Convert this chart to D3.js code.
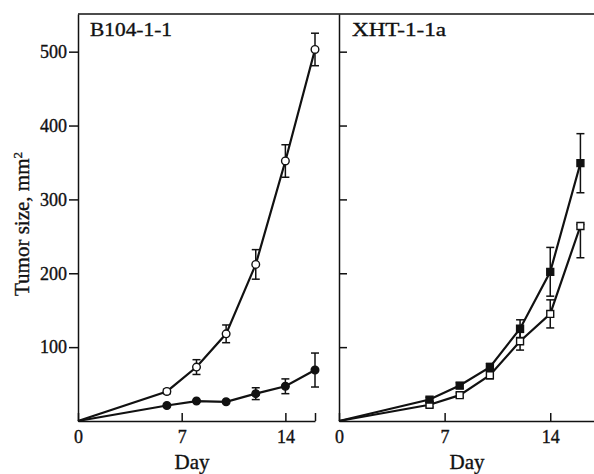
<!DOCTYPE html>
<html>
<head>
<meta charset="utf-8">
<script src="https://cdn.jsdelivr.net/npm/d3@7"></script>
<style>
  body { margin: 0; background: #fff; }
  svg text { font-family: "Liberation Serif", "DejaVu Serif", serif; fill: #111; stroke: #111; stroke-width: 0.35px; }
</style>
</head>
<body>
<div id="chart"></div>
<script>
// days measured
var days = [0, 6, 8, 10, 12, 14, 16];

// B104-1-1 panel
var b104Open = [0, 40, 73, 118, 212, 352, 503];
var b104OpenErr = [0, 3, 10, 12, 20, 22, 22];
var b104Filled = [0, 21, 27, 26, 37, 47, 69];
var b104FilledErr = [0, 2, 2, 2, 8, 10, 23];

// XHT-1-1a panel
var xhtFilled = [0, 29, 48, 73, 125, 202, 349];
var xhtFilledErr = [0, 3, 4, 5, 12, 33, 40];
var xhtOpen = [0, 22, 35, 62, 108, 145, 264];
var xhtOpenErrUp = [0, 3, 3, 5, 12, 19, 2];
var xhtOpenErrDown = [0, 3, 3, 5, 12, 19, 43];

var yTicks = [100, 200, 300, 400, 500];
var leftXTicks = [0, 7, 14, 16];
var rightXTicks = [0, 7, 14];

var width = 594, height = 474;
var plotTop = 14, plotBottom = 421;

var svg = d3.select("#chart")
            .append("svg")
            .attr("width", width)
            .attr("height", height);

var y = d3.scaleLinear().domain([0, 551]).range([plotBottom, plotTop]);
var xLeft = d3.scaleLinear().domain([0, 16]).range([78, 315]);
var xRight = d3.scaleLinear().domain([0, 16.9]).range([339, 594]);

// top frame line across both panels
svg.append("line")
   .attr("x1", xLeft(0)).attr("x2", width)
   .attr("y1", plotTop).attr("y2", plotTop)
   .attr("stroke", "#111").attr("stroke-width", 1.5);

function styleAxis(g) {
    g.selectAll("path, line").attr("stroke", "#111").attr("stroke-width", 1.5);
    g.selectAll("text").attr("font-size", 18).attr("font-family", "Liberation Serif").attr("fill", "#111");
}

// left y axis, ticks outward with labels
svg.append("g")
   .attr("transform", "translate(" + xLeft(0) + ",0)")
   .call(d3.axisLeft(y).tickValues(yTicks).tickSize(9).tickSizeOuter(0).tickPadding(2))
   .call(styleAxis);

// right y axis, ticks inward, no labels
svg.append("g")
   .attr("transform", "translate(" + xRight(0) + ",0)")
   .call(d3.axisRight(y).tickValues(yTicks).tickSize(8).tickSizeOuter(0).tickFormat(""))
   .call(styleAxis);

// x axes, ticks pointing up
svg.append("g")
   .attr("transform", "translate(0," + plotBottom + ")")
   .call(d3.axisBottom(xLeft).tickValues(leftXTicks).tickSize(-8).tickSizeOuter(0).tickPadding(9)
           .tickFormat(function(d) { return d === 16 ? "" : d; }))
   .call(styleAxis);

svg.append("g")
   .attr("transform", "translate(0," + plotBottom + ")")
   .call(d3.axisBottom(xRight).tickValues(rightXTicks).tickSize(-8).tickSizeOuter(0).tickPadding(9))
   .call(styleAxis);

// panel titles (scan is a bit wide, stretch glyphs)
svg.append("text").attr("x", 90).attr("y", 36).attr("font-size", 19)
   .attr("textLength", 82).attr("lengthAdjust", "spacingAndGlyphs").text("B104-1-1");
svg.append("text").attr("x", 352).attr("y", 36).attr("font-size", 19)
   .attr("textLength", 94).attr("lengthAdjust", "spacingAndGlyphs").text("XHT-1-1a");

// axis titles
svg.append("text").attr("x", 192).attr("y", 469)
   .attr("text-anchor", "middle").attr("font-size", 21).text("Day");
svg.append("text").attr("x", 467).attr("y", 469)
   .attr("text-anchor", "middle").attr("font-size", 21).text("Day");

var yLabel = svg.append("text")
   .attr("transform", "translate(29,224) rotate(-90)")
   .attr("text-anchor", "middle").attr("font-size", 21);
yLabel.append("tspan").text("Tumor size, mm");
yLabel.append("tspan").attr("dy", -7).attr("font-size", 13).text("2");

function drawSeries(x, values, errUp, errDown, shape, filled) {
    var pts = days.map(function(d, i) {
        return {day: d, v: values[i], up: errUp[i], down: errDown[i]};
    });
    var line = d3.line()
                 .x(function(d) { return x(d.day); })
                 .y(function(d) { return y(d.v); });
    svg.append("path")
       .datum(pts)
       .attr("d", line)
       .attr("fill", "none")
       .attr("stroke", "#111")
       .attr("stroke-width", 2.2);

    var eb = svg.append("g").selectAll("g")
                .data(pts.filter(function(d) { return d.up > 2 || d.down > 2; }))
                .enter().append("g")
                .attr("stroke", "#111").attr("stroke-width", 1.5);
    eb.append("line")
      .attr("x1", function(d) { return x(d.day); })
      .attr("x2", function(d) { return x(d.day); })
      .attr("y1", function(d) { return y(d.v + d.up); })
      .attr("y2", function(d) { return y(d.v - d.down); });
    eb.append("line")
      .attr("x1", function(d) { return x(d.day) - 4; })
      .attr("x2", function(d) { return x(d.day) + 4; })
      .attr("y1", function(d) { return y(d.v + d.up); })
      .attr("y2", function(d) { return y(d.v + d.up); });
    eb.append("line")
      .attr("x1", function(d) { return x(d.day) - 4; })
      .attr("x2", function(d) { return x(d.day) + 4; })
      .attr("y1", function(d) { return y(d.v - d.down); })
      .attr("y2", function(d) { return y(d.v - d.down); });

    var sym = d3.symbol().type(shape === "circle" ? d3.symbolCircle : d3.symbolSquare)
                .size(shape === "circle" ? 46 : 48);
    svg.append("g").selectAll("path")
       .data(pts.slice(1))
       .enter().append("path")
       .attr("d", sym)
       .attr("transform", function(d) { return "translate(" + x(d.day) + "," + y(d.v) + ")"; })
       .attr("fill", filled ? "#111" : "#fff")
       .attr("stroke", "#111")
       .attr("stroke-width", 1.4);
}

drawSeries(xLeft, b104Filled, b104FilledErr, b104FilledErr, "circle", true);
drawSeries(xLeft, b104Open, b104OpenErr, b104OpenErr, "circle", false);
drawSeries(xRight, xhtOpen, xhtOpenErrUp, xhtOpenErrDown, "square", false);
drawSeries(xRight, xhtFilled, xhtFilledErr, xhtFilledErr, "square", true);
</script>
</body>
</html>
